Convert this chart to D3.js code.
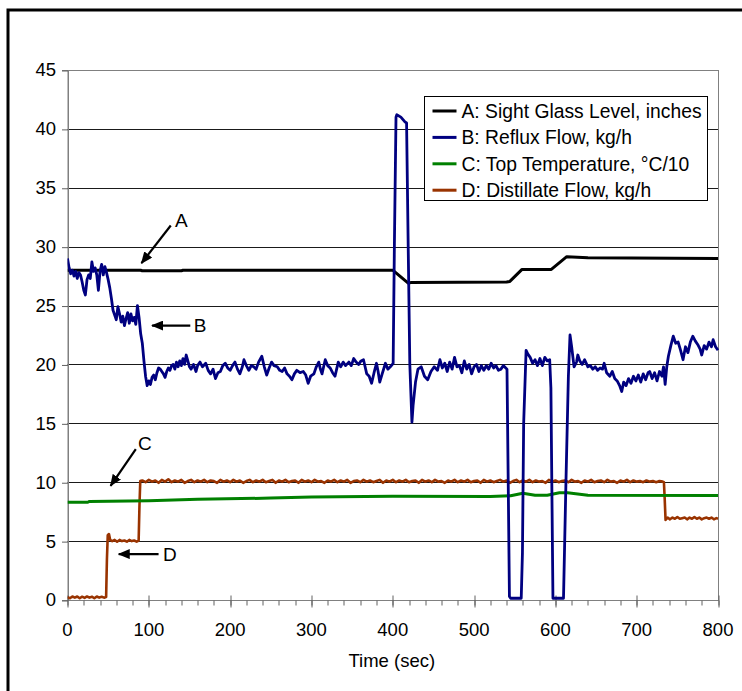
<!DOCTYPE html>
<html>
<head>
<meta charset="utf-8">
<script src="https://cdnjs.cloudflare.com/ajax/libs/d3/7.8.5/d3.min.js"></script>
<style>
  body { margin: 0; background: #fff; }
  svg { display: block; font-family: "Liberation Sans", Arial, sans-serif; }
</style>
</head>
<body>
<div id="chart"></div>
<script>
// axis ticks
var xTicks = [0, 100, 200, 300, 400, 500, 600, 700, 800];
var xMinor = d3.range(0, 801, 20);
var yTicks = [0, 5, 10, 15, 20, 25, 30, 35, 40, 45];

// legend
var seriesNames = ["A: Sight Glass Level, inches", "B: Reflux Flow, kg/h",
                   "C: Top Temperature, \u00B0C/10", "D: Distillate Flow, kg/h"];
var seriesColors = ["#000000", "#000080", "#008000", "#993300"];

// A: sight glass level [sec, inches]
var levelA = [[0,28],[90,28],[92,27.95],[140,27.95],[142,28],[400,28],[419,26.9],[422,26.95],
  [540,27],[544,27.05],[559,28.07],[595,28.07],[614,29.15],[640,29.05],[800,29.0]];

// B: reflux flow [sec, kg/h]
var refluxB = [[0,29.0],[2,28.2],[4,27.7],[6,28.0],[8,27.5],[10,27.9],[12,27.3],[14,27.8],
  [16,27.6],[18,27.0],[20,26.3],[22,25.9],[24,27.2],[26,27.6],[28,27.3],[30,28.7],[32,27.9],
  [34,28.2],[36,27.6],[38,26.3],[40,27.9],[42,28.5],[44,27.6],[46,28.3],[48,27.8],[50,27.2],
  [52,26.5],[54,25.6],[56,24.6],[58,24.2],[60,23.8],[62,24.9],[64,24.3],[66,23.6],[68,24.1],
  [70,23.3],[72,23.9],[74,24.4],[76,23.5],[78,24.3],[80,23.7],[82,24.0],[84,23.4],[86,25.0],
  [88,24.0],[90,22.6],[92,21.8],[94,20.3],[96,19.0],[98,18.2],[100,18.6],[102,18.3],[104,18.9],
  [106,19.1],[108,18.7],[110,19.3],[112,19.7],[114,19.6],[116,19.4],[118,19.2],[120,18.9],
  [122,19.4],[124,19.7],[126,19.5],[128,19.9],[130,20.0],[132,19.6],[134,20.2],[136,19.8],
  [138,20.3],[140,19.9],[142,20.5],[144,20.0],[146,20.8],[148,20.3],[150,19.8],[152,19.6],
  [155,20.0],[158,19.4],[160,19.9],[163,20.2],[166,19.8],[170,20.1],[173,19.5],[176,19.2],
  [179,19.6],[182,18.8],[185,19.3],[188,19.4],[191,19.9],[194,20.1],[197,19.7],[200,19.5],
  [203,19.9],[206,20.2],[209,19.6],[212,19.2],[215,19.8],[217,20.4],[220,19.9],[223,19.5],
  [226,19.9],[229,19.8],[232,19.6],[235,20.2],[239,20.7],[242,19.8],[245,19.1],[248,19.7],
  [251,20.2],[254,19.9],[258,19.8],[261,19.5],[264,19.4],[267,19.7],[270,19.2],[273,19.0],
  [276,18.7],[279,19.2],[282,19.5],[286,19.3],[290,19.4],[293,19.1],[296,18.4],[299,19.0],
  [303,19.2],[306,19.8],[309,20.2],[311,19.6],[313,19.2],[315,19.8],[317,20.4],[320,19.9],
  [323,19.7],[326,19.3],[329,19.0],[331,19.6],[333,20.2],[336,19.8],[339,20.2],[342,19.9],
  [346,20.2],[349,19.9],[352,20.5],[355,20.2],[358,20.0],[361,20.3],[364,20.4],[366,19.8],
  [368,19.2],[371,19.0],[374,18.4],[377,19.3],[380,20.1],[382,19.4],[384,18.5],[387,19.2],
  [391,20.1],[394,19.6],[397,19.8],[400.5,20.1],[402,30],[404,41.0],[405,41.2],[410,41.0],
  [415,40.6],[417,40.5],[419,30],[421,20],[423.6,15.1],[425,16.5],[428,18.5],[431,19.6],
  [435,19.8],[439,19.0],[443,18.7],[447,19.4],[451,19.8],[455,19.5],[458,20.4],[461,19.7],
  [464,20.1],[467,19.4],[470,20.2],[473,19.6],[476,20.6],[479,19.8],[482,19.9],[485,19.3],
  [488,20.3],[491,19.6],[494,20.0],[497,19.2],[500,19.8],[503,20.0],[506,19.4],[509,19.9],
  [512,19.5],[515,19.9],[518,19.6],[521,20.1],[524,19.7],[527,19.9],[530,19.5],[533,19.6],
  [536,19.9],[539,19.7],[540.5,19.6],[542,10],[543.5,0.3],[545,0.15],[558,0.15],[559.5,4],
  [561,15],[564,21.2],[566,20.9],[569,20.6],[572,20.1],[575,20.4],[578,19.9],[581,20.5],
  [584,19.9],[587,20.6],[590,20.3],[593,20.4],[594.5,18],[597,0.15],[610,0.15],[613,10],
  [616,19],[618,22.5],[620,21.5],[623,19.8],[626,20.2],[627.6,20.8],[630,20.3],[633,20.0],
  [636,20.4],[640,19.8],[643,19.9],[646,19.6],[649,19.8],[652,19.5],[655,19.7],[658,19.6],
  [660,20.1],[663,19.3],[667,19.0],[670,19.4],[673,18.8],[676,18.6],[679,18.2],[681.6,17.7],
  [684,18.5],[687,18.2],[690,18.8],[693,18.4],[696,19.0],[699,18.6],[702,19.1],[705,18.5],
  [708,19.2],[711,18.7],[714,19.3],[716,19.4],[719,18.8],[722,19.3],[725,18.6],[728,19.4],
  [731,19.0],[733,19.8],[735,18.3],[737,19.8],[739,20.7],[742,21.6],[745,22.4],[748,21.8],
  [751,21.9],[754,21.2],[757,20.4],[760,21.5],[763,21.0],[766,21.9],[769,22.4],[772,22.0],
  [775,21.7],[778,21.3],[780,20.8],[783,21.6],[786,21.3],[789,21.9],[792,21.5],[794,22.1],
  [797,21.5],[800,21.2]];

// C: top temperature [sec, degC/10]
var tempC = [[0,8.3],[25,8.3],[27,8.37],[100,8.42],[160,8.55],[250,8.65],[300,8.75],
  [400,8.8],[520,8.78],[545,8.85],[560,9.06],[575,8.9],[590,8.9],[605,9.1],[615,9.1],
  [640,8.9],[800,8.88]];

// D: distillate flow [sec, kg/h]
var distStart = [[0,0.25],[3,0.15],[6,0.3],[9,0.2],[12,0.3],[15,0.15],[18,0.28],[21,0.18],
  [24,0.3],[27,0.2],[30,0.28],[33,0.15],[36,0.3],[39,0.2],[42,0.28],[45,0.2],[47.5,0.25],
  [48.5,3.5],[49.5,5.5],[51,5.6],[52.5,5.1],[55,5.0],[58,5.1],[61,4.95],[64,5.1],[67,5.0],
  [70,5.05],[73,4.95],[76,5.1],[79,5.0],[82,5.05],[85,4.95],[87.5,5.05],[88.5,8],[89.5,10.1]];
// plateau, read every 4 s from 92 s
var distFlat = [10.15,10.0,10.2,10.05,10.15,9.95,10.2,10.05,10.25,10.0,
  10.15,10.05,10.2,9.95,10.1,10.2,10.0,10.15,10.05,10.2,
  10.0,10.15,10.1,9.95,10.2,10.05,10.15,10.0,10.2,10.05,
  10.15,9.95,10.1,10.2,10.0,10.15,10.05,10.2,10.0,10.1,
  10.2,9.95,10.15,10.05,10.2,10.0,10.1,10.15,9.95,10.2,
  10.05,10.15,10.0,10.2,10.05,10.1,9.95,10.15,10.05,10.2,
  10.0,10.15,10.05,10.2,9.95,10.1,10.15,10.0,10.2,10.05,
  10.15,10.0,10.1,10.2,9.95,10.15,10.05,10.2,10.0,10.15,
  10.05,10.2,10.0,10.1,10.15,9.95,10.2,10.05,10.15,10.0,
  10.2,10.05,10.1,9.95,10.15,10.05,10.2,10.0,10.15,10.05,
  10.2,10.0,10.1,10.15,9.95,10.2,10.05,10.15,10.0,10.1,
  10.2,10.05,10.15,9.95,10.1,10.2,10.0,10.15,10.05,10.2,
  10.0,10.15,10.05,10.1,9.95,10.2,10.05,10.15,10.0,10.1,
  10.15,10.0,10.2,10.05,10.1,9.95,10.15,10.05,10.2,10.0,
  10.1,10.15,10.0,10.2,10.05,10.1,9.95,10.15,10.05,10.2,
  10.0,10.15,10.05,10.1,10.0,10.15,10.05,10.1,10.0,10.1,10.05];
var distEnd = [[733.5,10.0],[734.5,8.5],[735.5,6.8],[738,7.0],[741,6.85],[744,7.0],[747,6.9],
  [750,7.05],[753,6.9],[756,6.95],[759,7.0],[762,6.85],[765,7.0],[768,6.9],[771,7.05],[774,6.9],
  [777,7.0],[780,6.85],[783,6.95],[786,7.0],[789,6.9],[792,7.0],[795,6.85],[798,6.95],[800,6.9]];
var distD = distStart.concat(distFlat.map(function(v, i) { return [92 + 4 * i, v]; }), distEnd);

// arrow notes: label, arrow from, arrow to (data units)
var notes = [
  {label: "A", tx: 140, ty: 32.2, from: [127, 31.8], to: [91, 28.6]},
  {label: "B", tx: 163, ty: 23.3, from: [151, 23.3], to: [104, 23.3]},
  {label: "C", tx: 95, ty: 13.3, from: [84, 12.8], to: [53, 9.7]},
  {label: "D", tx: 126, ty: 3.9, from: [112, 3.9], to: [63, 3.9]}
];

var W = 742, H = 691;
var margin = {top: 70, right: 24, bottom: 91, left: 67.5};
var width = W - margin.left - margin.right,
    height = H - margin.top - margin.bottom;

var svg = d3.select("#chart")
  .append("svg")
    .attr("width", W)
    .attr("height", H);

// outer frame
svg.append("rect")
  .attr("x", 8).attr("y", 10)
  .attr("width", 900).attr("height", 900)
  .attr("fill", "none")
  .attr("stroke", "#000")
  .attr("stroke-width", 3);

var g = svg.append("g")
  .attr("transform", "translate(" + margin.left + "," + margin.top + ")");

var x = d3.scaleLinear().domain([0, 800]).range([0, width]);
var y = d3.scaleLinear().domain([0, 45]).range([height, 0]);

// gridlines
g.append("g")
  .selectAll("line")
  .data(yTicks.filter(function(d) { return d > 0 && d < 45; }))
  .enter().append("line")
    .attr("x1", 0).attr("x2", width)
    .attr("y1", function(d) { return Math.round(y(d)) + 0.5; })
    .attr("y2", function(d) { return Math.round(y(d)) + 0.5; })
    .attr("stroke", "#1a1a1a")
    .attr("stroke-width", 1);

// plot border
g.append("rect")
  .attr("x", 0.5).attr("y", 0.5)
  .attr("width", width).attr("height", height)
  .attr("fill", "none")
  .attr("stroke", "#808080")
  .attr("stroke-width", 1);

// y axis
var yAxis = g.append("g")
  .attr("transform", "translate(0.5,0)")
  .call(d3.axisLeft(y).tickValues(yTicks).tickSize(6).tickPadding(6));
yAxis.select(".domain").attr("stroke", "#808080");
yAxis.selectAll(".tick line").attr("stroke", "#606060")
  .attr("transform", function() { return "translate(0,0.5)"; });
yAxis.selectAll("text").attr("font-size", 18.5).attr("fill", "#000")
  .attr("font-family", "Liberation Sans, Arial, sans-serif");

// x axis, minor ticks then major ones crossing the axis
var xAxisG = g.append("g")
  .attr("transform", "translate(0," + (height + 0.5) + ")");
xAxisG.selectAll(".minor")
  .data(xMinor)
  .enter().append("line")
    .attr("x1", function(d) { return Math.round(x(d)) + 0.5; })
    .attr("x2", function(d) { return Math.round(x(d)) + 0.5; })
    .attr("y1", 0).attr("y2", 5)
    .attr("stroke", "#606060");
xAxisG.selectAll(".major")
  .data(xTicks)
  .enter().append("line")
    .attr("x1", function(d) { return Math.round(x(d)) + 0.5; })
    .attr("x2", function(d) { return Math.round(x(d)) + 0.5; })
    .attr("y1", -5).attr("y2", 7)
    .attr("stroke", "#606060");
xAxisG.selectAll("text")
  .data(xTicks)
  .enter().append("text")
    .attr("x", function(d) { return x(d); })
    .attr("y", 35)
    .attr("text-anchor", "middle")
    .attr("font-size", 18.5)
    .text(function(d) { return d; });

svg.append("text")
  .attr("x", margin.left + width / 2 - 1)
  .attr("y", 667)
  .attr("text-anchor", "middle")
  .attr("font-size", 18.5)
  .text("Time (sec)");

// series
svg.append("clipPath").attr("id", "plotclip")
  .append("rect")
    .attr("x", 0).attr("y", -2)
    .attr("width", width + 1).attr("height", height + 3);

var line = d3.line()
  .x(function(d) { return x(d[0]); })
  .y(function(d) { return y(d[1]); });

var plotData = [
  {data: distD, color: seriesColors[3], w: 2.6},
  {data: tempC, color: seriesColors[2], w: 3},
  {data: levelA, color: seriesColors[0], w: 3},
  {data: refluxB, color: seriesColors[1], w: 2.8}
];

g.append("g")
  .attr("clip-path", "url(#plotclip)")
  .selectAll("path")
  .data(plotData)
  .enter().append("path")
    .attr("d", function(d) { return line(d.data); })
    .attr("fill", "none")
    .attr("stroke", function(d) { return d.color; })
    .attr("stroke-width", function(d) { return d.w; })
    .attr("stroke-linejoin", "round");

// legend
var legend = svg.append("g").attr("transform", "translate(424.5,96.5)");
legend.append("rect")
  .attr("width", 283).attr("height", 104)
  .attr("fill", "#fff")
  .attr("stroke", "#000")
  .attr("stroke-width", 1);
var rows = legend.selectAll(".row")
  .data(seriesNames)
  .enter().append("g")
    .attr("transform", function(d, i) { return "translate(0," + (14.5 + i * 26.4) + ")"; });
rows.append("line")
  .attr("x1", 8).attr("x2", 32)
  .attr("stroke", function(d, i) { return seriesColors[i]; })
  .attr("stroke-width", 3);
rows.append("text")
  .attr("x", 37)
  .attr("dy", "0.35em")
  .attr("font-size", 19.3)
  .text(function(d) { return d; });

// arrow notes
svg.append("defs").append("marker")
  .attr("id", "head")
  .attr("markerUnits", "userSpaceOnUse")
  .attr("markerWidth", 12).attr("markerHeight", 10)
  .attr("refX", 11).attr("refY", 5)
  .attr("orient", "auto")
  .append("path")
    .attr("d", "M0,0 L12,5 L0,10 Z")
    .attr("fill", "#000");

var noteG = g.append("g");
noteG.selectAll("line")
  .data(notes)
  .enter().append("line")
    .attr("x1", function(d) { return x(d.from[0]); })
    .attr("y1", function(d) { return y(d.from[1]); })
    .attr("x2", function(d) { return x(d.to[0]); })
    .attr("y2", function(d) { return y(d.to[1]); })
    .attr("stroke", "#000")
    .attr("stroke-width", 2.2)
    .attr("marker-end", "url(#head)");
noteG.selectAll("text")
  .data(notes)
  .enter().append("text")
    .attr("x", function(d) { return x(d.tx); })
    .attr("y", function(d) { return y(d.ty); })
    .attr("text-anchor", "middle")
    .attr("dy", "0.35em")
    .attr("font-size", 19)
    .text(function(d) { return d.label; });
</script>
</body>
</html>
